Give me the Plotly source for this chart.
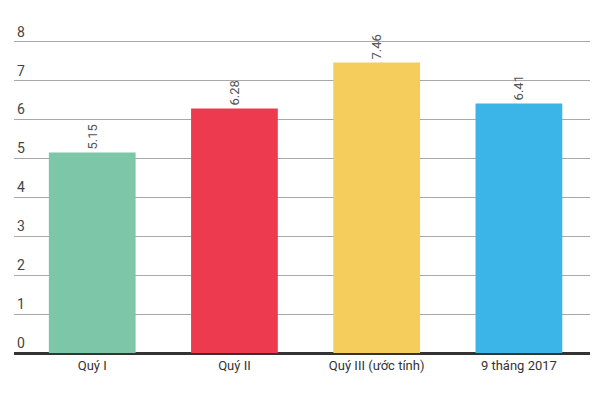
import plotly.graph_objects as go

categories = ["Quý I", "Quý II", "Quý III (ước tính)", "9 tháng 2017"]
values = [5.15, 6.28, 7.46, 6.41]
value_labels = ["5.15", "6.28", "7.46", "6.41"]
colors = ["#7DC6A7", "#EE3A4E", "#F4CD5C", "#3BB5E8"]
y_ticks = [0, 1, 2, 3, 4, 5, 6, 7, 8]

fig = go.Figure(go.Bar(
    x=categories, y=values, marker_color=colors, marker_line_width=0,
    text=value_labels, textposition="outside", textangle=-90,
    textfont=dict(family="Roboto", size=13, color="#555555"),
    cliponaxis=False, width=0.61,
))

fig.update_layout(
    width=605, height=397,
    margin=dict(l=14, r=15, t=22, b=44),
    paper_bgcolor="white", plot_bgcolor="white",
    showlegend=False,
    font=dict(family="Roboto", color="#444444"),
    xaxis=dict(range=[-0.55, 3.5], showgrid=False, showline=False, automargin=False,
               tickfont=dict(size=13, color="#333333"), ticks="", ticklen=0,
               ticklabelstandoff=3),
    yaxis=dict(range=[0, 8.5], tickvals=y_ticks, showgrid=True, gridcolor="#A8A8A8",
               gridwidth=1, ticklabelposition="inside top", automargin=False,
               tickfont=dict(size=14, color="#444444"),
               zeroline=True, zerolinecolor="#333333", zerolinewidth=3),
)

fig.write_html("out.html", post_script="document.body.style.margin='0';",
               config={"displayModeBar": False})
